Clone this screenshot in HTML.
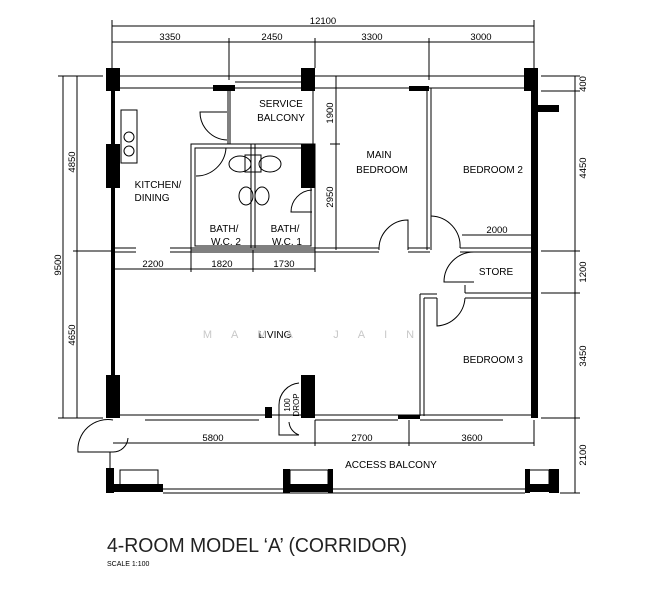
<!DOCTYPE html>
<html><head><style>
html,body{margin:0;padding:0;background:#fff;}
svg{display:block;}
text{font-family:"Liberation Sans",sans-serif;fill:#000;}
</style></head><body>
<svg width="659" height="600" viewBox="0 0 659 600" xmlns="http://www.w3.org/2000/svg">
<g stroke="#000" stroke-width="1" fill="none">
<line x1="112" y1="26" x2="534" y2="26"/>
<line x1="112" y1="42" x2="534" y2="42"/>
<line x1="112" y1="20" x2="112" y2="68"/>
<line x1="534" y1="20" x2="534" y2="68"/>
<line x1="229" y1="38" x2="229" y2="80"/>
<line x1="315" y1="38" x2="315" y2="68"/>
<line x1="429" y1="38" x2="429" y2="80"/>
<line x1="63" y1="76" x2="63" y2="418"/>
<line x1="77" y1="76" x2="77" y2="418"/>
<line x1="58" y1="76" x2="103" y2="76"/>
<line x1="58" y1="418" x2="103" y2="418"/>
<line x1="73" y1="251" x2="113" y2="251"/>
<line x1="575" y1="76" x2="575" y2="493"/>
<line x1="541" y1="76" x2="580" y2="76"/>
<line x1="541" y1="91" x2="580" y2="91"/>
<line x1="541" y1="251" x2="580" y2="251"/>
<line x1="541" y1="293" x2="580" y2="293"/>
<line x1="541" y1="418" x2="580" y2="418"/>
<line x1="560" y1="493" x2="580" y2="493"/>
<line x1="336" y1="76" x2="336" y2="250"/>
<line x1="330" y1="144" x2="340" y2="144"/>
<line x1="113" y1="269" x2="315" y2="269"/>
<line x1="191" y1="250" x2="191" y2="272"/>
<line x1="253" y1="250" x2="253" y2="272"/>
<line x1="315" y1="250" x2="315" y2="272"/>
<line x1="462" y1="235" x2="534" y2="235"/>
<line x1="113" y1="443" x2="534" y2="443"/>
<line x1="315" y1="420" x2="315" y2="446"/>
<line x1="409" y1="420" x2="409" y2="446"/>
<line x1="534" y1="420" x2="534" y2="446"/>
<line x1="120" y1="76" x2="524" y2="76"/>
<line x1="120" y1="88" x2="301" y2="88"/>
<line x1="315" y1="88" x2="524" y2="88"/>
<line x1="235" y1="82" x2="301" y2="82"/>
<line x1="228" y1="88" x2="228" y2="144"/>
<line x1="230" y1="88" x2="230" y2="144"/>
<line x1="313" y1="91" x2="313" y2="144"/>
<path d="M227 112 L200 112 A28 28 0 0 0 227 140"/>
<rect x="121" y="110" width="16" height="53"/>
<circle cx="129" cy="137" r="5"/><circle cx="129" cy="151" r="5"/>
<rect x="191" y="144" width="124" height="106"/>
<rect x="195" y="148" width="116" height="98"/>
<line x1="251" y1="144" x2="251" y2="248"/>
<line x1="255" y1="144" x2="255" y2="248"/>
<path d="M196 176 A30 30 0 0 0 226 148"/>
<path d="M312 190 A22 22 0 0 0 291 212 L312 212"/>
<ellipse cx="240" cy="164" rx="11" ry="8"/><ellipse cx="270" cy="164" rx="11" ry="8"/>
<rect x="245" y="155" width="16" height="17"/>
<ellipse cx="246" cy="196" rx="7" ry="9"/><ellipse cx="262" cy="196" rx="7" ry="9"/>
<line x1="113" y1="248" x2="136" y2="248"/>
<line x1="113" y1="252" x2="136" y2="252"/>
<line x1="170" y1="248" x2="379" y2="248"/>
<line x1="170" y1="252" x2="379" y2="252"/>
<line x1="408" y1="248" x2="430" y2="248"/>
<line x1="408" y1="252" x2="430" y2="252"/>
<path d="M379 250 A29 29 0 0 1 408 220 L408 250"/>
<line x1="427" y1="88" x2="427" y2="250"/>
<line x1="431" y1="88" x2="431" y2="250"/>
<path d="M431 216 A30 30 0 0 1 460 248"/>
<line x1="460" y1="248" x2="531" y2="248"/>
<line x1="460" y1="252" x2="531" y2="252"/>
<path d="M474 252 A30 30 0 0 0 444 282 L474 282"/>
<line x1="465" y1="293" x2="531" y2="293"/>
<line x1="465" y1="298" x2="531" y2="298"/>
<line x1="465" y1="293" x2="465" y2="285"/>
<line x1="420" y1="294" x2="437" y2="294"/>
<line x1="424" y1="298" x2="437" y2="298"/>
<line x1="420" y1="294" x2="420" y2="416"/>
<line x1="424" y1="298" x2="424" y2="416"/>
<path d="M437 298 L437 326 A30 30 0 0 0 465 298"/>
<line x1="120" y1="415" x2="531" y2="415"/>
<line x1="145" y1="420" x2="259" y2="420"/>
<line x1="315" y1="420" x2="398" y2="420"/>
<line x1="420" y1="420" x2="503" y2="420"/>
<path d="M299 383 A22 22 0 0 0 279 405 L279 435 L299 435 M299 435 A15 15 0 0 1 289 422"/>
<path d="M113 420 A30 30 0 0 0 78 452 L113 452 M113 452 A15 15 0 0 0 128 438"/>
<line x1="110" y1="452" x2="110" y2="469"/>
<line x1="163" y1="489" x2="525" y2="489"/>
<line x1="163" y1="493" x2="525" y2="493"/>
<rect x="120" y="470" width="38" height="15"/>
<rect x="290" y="470" width="38" height="15"/>
<rect x="529" y="470" width="20" height="15"/>
</g>
<g fill="#000">
<rect x="106" y="68" width="14" height="23"/>
<rect x="106" y="144" width="14" height="44"/>
<rect x="111" y="91" width="4" height="285"/>
<rect x="106" y="375" width="14" height="43"/>
<rect x="301" y="68" width="14" height="23"/>
<rect x="301" y="144" width="14" height="44"/>
<rect x="301" y="375" width="14" height="43"/>
<rect x="524" y="68" width="14" height="23"/>
<rect x="531" y="91" width="7" height="327"/>
<rect x="538" y="105" width="21" height="7"/>
<rect x="213" y="85" width="22" height="6"/>
<rect x="409" y="86" width="20" height="5"/>
<rect x="398" y="415" width="22" height="4"/>
<rect x="265" y="407" width="7" height="11"/>
<rect x="106" y="468" width="8" height="25"/>
<rect x="114" y="484" width="49" height="8"/>
<rect x="283" y="469" width="7" height="24"/>
<rect x="328" y="469" width="5" height="24"/>
<rect x="290" y="484" width="38" height="8"/>
<rect x="525" y="469" width="5" height="24"/>
<rect x="549" y="469" width="10" height="24"/>
<rect x="530" y="484" width="19" height="8"/>
</g>
<g font-size="9.5" text-anchor="middle">
<text x="323" y="24">12100</text>
<text x="170" y="40">3350</text>
<text x="272" y="40">2450</text>
<text x="372" y="40">3300</text>
<text x="481" y="40">3000</text>
<text x="153" y="267">2200</text>
<text x="222" y="267">1820</text>
<text x="284" y="267">1730</text>
<text x="497" y="233">2000</text>
<text x="213" y="441">5800</text>
<text x="362" y="441">2700</text>
<text x="472" y="441">3600</text>
<text transform="translate(75,162) rotate(-90)">4850</text>
<text transform="translate(75,335) rotate(-90)">4650</text>
<text transform="translate(61,265) rotate(-90)">9500</text>
<text transform="translate(586,84) rotate(-90)">400</text>
<text transform="translate(586,168) rotate(-90)">4450</text>
<text transform="translate(586,272) rotate(-90)">1200</text>
<text transform="translate(586,356) rotate(-90)">3450</text>
<text transform="translate(586,455) rotate(-90)">2100</text>
<text transform="translate(333,113) rotate(-90)">1900</text>
<text transform="translate(333,197) rotate(-90)">2950</text>
</g>
<g font-size="8" text-anchor="middle">
<text transform="translate(290,405) rotate(-90)">100</text>
<text transform="translate(299,405) rotate(-90)">DROP</text>
</g>
<g font-size="10" text-anchor="middle">
<text x="281" y="107">SERVICE</text>
<text x="281" y="121">BALCONY</text>
<text x="158" y="188">KITCHEN/</text>
<text x="152" y="201">DINING</text>
<text x="224" y="232">BATH/</text>
<text x="226" y="245">W.C. 2</text>
<text x="285" y="232">BATH/</text>
<text x="287" y="245">W.C. 1</text>
<text x="379" y="158">MAIN</text>
<text x="382" y="173">BEDROOM</text>
<text x="493" y="173">BEDROOM 2</text>
<text x="496" y="275">STORE</text>
<text x="275" y="338">LIVING</text>
<text x="493" y="363">BEDROOM 3</text>
<text x="391" y="468">ACCESS BALCONY</text>
</g>
<text x="318" y="338" font-size="11" style="fill:#c8c8c8" text-anchor="middle" letter-spacing="19">MAMA JAIN</text>
<text x="107" y="552" font-size="20" textLength="300" lengthAdjust="spacingAndGlyphs" style="fill:#222">4-ROOM MODEL ‘A’ (CORRIDOR)</text>
<text x="107" y="566" font-size="7">SCALE  1:100</text>
</svg>
</body></html>
